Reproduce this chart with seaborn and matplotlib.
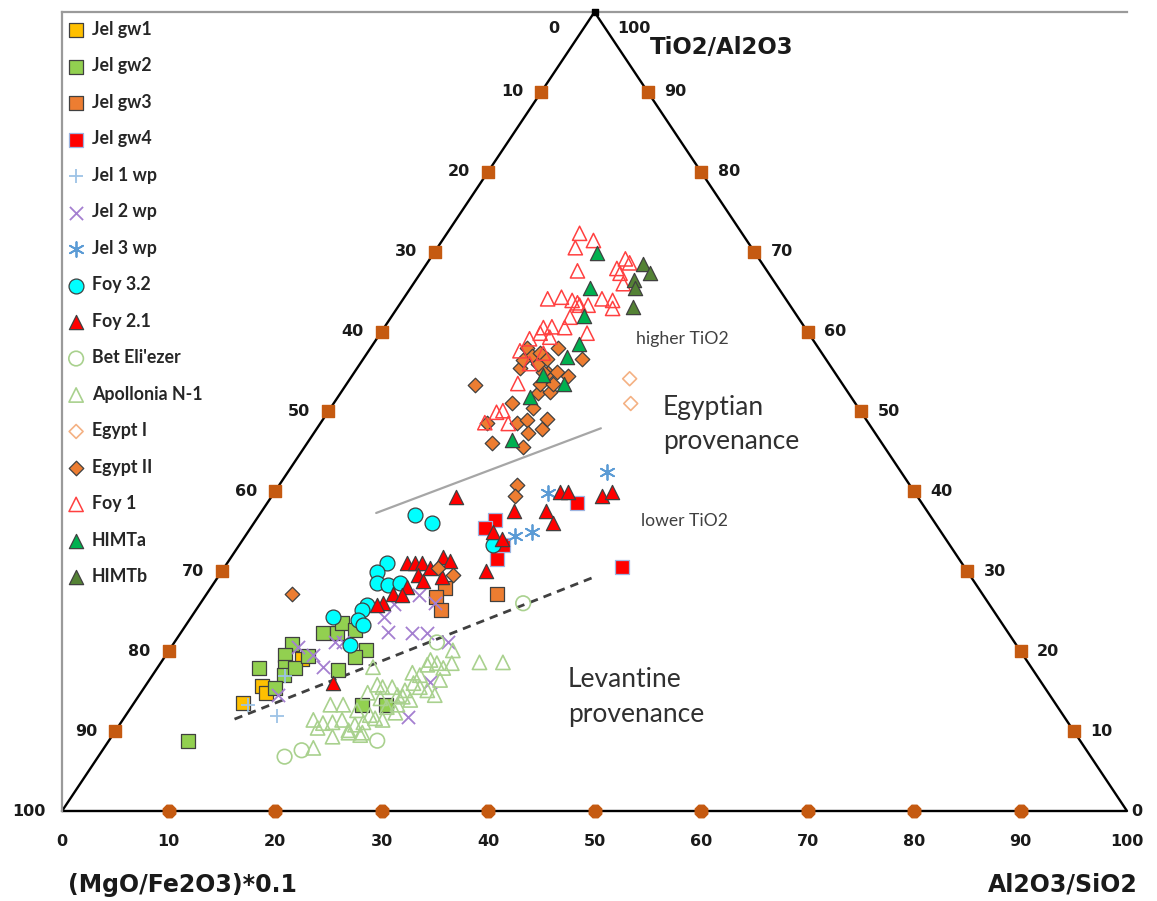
import matplotlib
matplotlib.use("Agg")
import matplotlib.pyplot as plt
from matplotlib.font_manager import FontProperties
import seaborn as sns

sns.set_theme(style="white")
plt.rcParams['font.family'] = ['DejaVu Sans']

# ---------------- data (x = bottom-scale position, y = height % of triangle) -------------
jel_gw1_x = [17.0, 18.8, 19.2, 22.5]
jel_gw1_y = [13.5, 15.6, 14.8, 19.0]

jel_gw2_x = [11.8, 18.5, 21.6, 20.9, 20.9, 20.8, 21.9, 20.0, 23.1, 24.5, 25.8, 26.3, 27.5, 28.5, 27.5, 25.9, 28.2, 30.4]
jel_gw2_y = [8.8, 17.9, 20.9, 19.5, 18.0, 17.0, 17.9, 15.4, 19.4, 22.3, 22.3, 23.5, 22.6, 20.1, 19.3, 17.6, 13.3, 13.3]

jel_gw3_x = [36.0, 35.1, 35.6, 40.8]
jel_gw3_y = [27.9, 26.8, 25.1, 27.1]

jel_gw4_x = [40.7, 39.7, 40.8, 41.4, 48.4, 52.6]
jel_gw4_y = [36.4, 35.4, 31.6, 33.3, 38.6, 30.5]

jel1wp_x = [17.5, 20.2, 20.9]
jel1wp_y = [13.3, 11.9, 16.9]

jel2wp_x = [30.6, 32.9, 34.3, 36.2, 30.2, 31.2, 33.5, 35.0, 24.5, 23.6, 22.2, 20.3, 34.6, 32.5, 26.4, 25.6]
jel2wp_y = [22.4, 22.3, 22.3, 21.1, 24.3, 25.9, 27.0, 26.0, 18.0, 19.5, 20.5, 14.5, 16.1, 11.8, 21.1, 21.1]

jel3wp_x = [51.2, 45.6, 42.5, 44.1]
jel3wp_y = [42.4, 39.8, 34.4, 34.9]

foy32_x = [33.1, 34.7, 30.5, 29.6, 29.6, 30.6, 31.7, 28.6, 28.2, 27.8, 28.3, 25.4, 27.0, 40.5]
foy32_y = [37.1, 36.0, 31.0, 29.9, 28.5, 28.3, 28.5, 25.8, 25.1, 23.9, 23.3, 24.3, 20.8, 33.3]

foy21_x = [37.0, 46.8, 47.5, 50.7, 51.6, 45.4, 46.1, 42.4, 40.5, 41.3, 39.8, 32.4, 33.1, 33.8,
           34.6, 35.8, 36.4, 35.7, 33.4, 33.9, 32.4, 31.1, 31.9, 30.1, 29.6, 25.4]
foy21_y = [39.3, 39.9, 39.9, 39.4, 39.9, 37.6, 36.0, 37.5, 34.9, 34.1, 30.1, 31.0, 31.1, 31.0,
           30.4, 31.8, 31.3, 29.3, 29.5, 28.8, 28.0, 27.1, 27.0, 26.0, 25.8, 16.0]

bet_x = [20.9, 22.5, 29.6, 43.3, 35.2]
bet_y = [6.8, 7.6, 8.8, 26.0, 21.1]

apol_x = [25.2, 26.4, 29.2, 29.6, 30.1, 31.0, 28.7, 31.5, 32.0, 29.9, 30.5, 31.3, 30.1, 29.4, 28.3,
          27.5, 26.3, 25.4, 24.5, 23.6, 24.0, 26.9, 25.4, 28.0, 23.6, 32.9, 33.6, 34.3, 35.2, 35.8,
          36.6, 36.7, 33.0, 33.6, 34.3, 35.0, 35.5, 34.6, 39.2, 41.4, 31.5, 27.7, 28.9, 26.9, 28.2,
          32.2, 32.7]
apol_y = [13.3, 13.3, 18.0, 15.8, 15.5, 15.5, 14.8, 14.5, 14.3, 14.1, 13.0, 12.3, 11.4, 11.6, 11.1,
          10.8, 11.4, 11.1, 11.0, 11.4, 10.4, 10.1, 9.3, 9.5, 7.9, 17.3, 17.0, 18.3, 18.5, 17.9,
          18.5, 20.1, 16.0, 15.5, 15.1, 14.5, 16.4, 18.9, 18.6, 18.6, 13.3, 12.6, 12.0, 9.8, 9.8,
          15.1, 13.9]

egypt1_x = [53.3, 53.4]
egypt1_y = [54.1, 51.0]

egypt2_x = [38.8, 39.9, 40.4, 43.3, 42.7, 43.7, 43.8, 45.1, 45.5, 42.3, 44.2, 44.7, 45.8, 44.9, 46.1,
            47.5, 45.6, 46.5, 45.2, 43.7, 44.1, 44.7, 43.0, 46.6, 48.8, 43.3, 44.9, 45.5, 42.7, 42.5,
            21.6, 35.3, 36.7]
egypt2_y = [53.3, 48.6, 46.0, 45.6, 48.5, 48.9, 47.3, 47.8, 49.0, 51.1, 50.5, 52.3, 52.4, 53.5, 53.5,
            54.4, 54.8, 54.9, 54.9, 58.0, 57.0, 56.0, 55.5, 58.0, 56.6, 56.4, 57.3, 56.6, 40.8, 39.4,
            27.1, 30.4, 29.5]

foy1_x = [48.6, 49.9, 48.2, 48.4, 52.9, 52.4, 52.7, 45.6, 46.9, 47.9, 48.4, 48.6, 50.7, 51.7, 51.7,
          49.4, 47.7, 45.2, 46.0, 47.2, 44.9, 45.8, 49.3, 43.9, 43.0, 45.2, 43.9, 42.8, 41.4, 40.8,
          39.7, 41.9, 53.3, 52.1]
foy1_y = [72.3, 71.4, 70.5, 67.6, 69.1, 67.3, 66.0, 64.1, 64.3, 63.9, 63.6, 63.3, 64.1, 63.9, 62.9,
          63.3, 61.8, 60.5, 60.6, 60.5, 59.8, 59.3, 59.8, 59.1, 57.6, 57.3, 56.0, 53.5, 50.1, 49.9,
          48.6, 48.5, 68.6, 67.9]

himta_x = [50.2, 49.6, 49.0, 48.5, 47.4, 45.2, 47.1, 43.9, 42.3]
himta_y = [69.8, 65.4, 62.0, 58.5, 56.8, 54.6, 53.5, 51.8, 46.4]

himtb_x = [54.6, 55.2, 53.7, 53.8, 53.6]
himtb_y = [68.5, 67.3, 66.4, 65.5, 63.1]

# boundary lines
egypt_line_x = [29.5, 50.6]
egypt_line_y = [37.3, 47.9]
levant_line_x = [16.2, 50.0]
levant_line_y = [11.5, 29.3]

tick_vals = [10, 20, 30, 40, 50, 60, 70, 80, 90]
bottom_labels = ['0', '10', '20', '30', '40', '50', '60', '70', '80', '90', '100']

# ---------------- figure ----------------
W, H = 1157, 901
fig = plt.figure(figsize=(W / 100, H / 100), dpi=100)
ax = fig.add_axes([62 / W, 90 / H, 1065 / W, 799 / H])
ax.set_xlim(0, 100)
ax.set_ylim(0, 100)
ax.set_xticks([])
ax.set_yticks([])
for s in ['right', 'bottom']:
    ax.spines[s].set_visible(False)
for s in ['top', 'left']:
    ax.spines[s].set_color('#9a9a9a')
    ax.spines[s].set_linewidth(1.6)

DARK = '#404040'
series = [
    ("Jel gw1", jel_gw1_x, jel_gw1_y, 's', 100, '#FFC000', DARK, 0.9),
    ("Jel gw2", jel_gw2_x, jel_gw2_y, 's', 100, '#92D050', DARK, 0.9),
    ("Jel gw3", jel_gw3_x, jel_gw3_y, 's', 100, '#ED7D31', DARK, 0.9),
    ("Jel gw4", jel_gw4_x, jel_gw4_y, 's', 100, '#FF0000', '#9DB4E0', 0.9),
    ("Jel 1 wp", jel1wp_x, jel1wp_y, '+', 115, None, '#9DC3E6', 1.3),
    ("Jel 2 wp", jel2wp_x, jel2wp_y, 'x', 90, None, '#A47FD0', 1.3),
    ("Jel 3 wp", jel3wp_x, jel3wp_y, (6, 2, 0), 115, None, '#5B9BD5', 1.3),
    ("Foy 3.2", foy32_x, foy32_y, 'o', 115, '#00FFFF', DARK, 0.9),
    ("Foy 2.1", foy21_x, foy21_y, '^', 105, '#FF0000', DARK, 0.9),
    ("Bet Eli'ezer", bet_x, bet_y, 'o', 110, 'none', '#A9D18E', 1.2),
    ("Apollonia N-1", apol_x, apol_y, '^', 105, 'none', '#A9D18E', 1.2),
    ("Egypt I", egypt1_x, egypt1_y, 'D', 50, 'none', '#F4B183', 1.2),
    ("Egypt II", egypt2_x, egypt2_y, 'D', 55, '#ED7D31', DARK, 0.9),
    ("Foy 1", foy1_x, foy1_y, '^', 105, 'none', '#FF4040', 1.1),
    ("HIMTa", himta_x, himta_y, '^', 105, '#00B050', DARK, 0.9),
    ("HIMTb", himtb_x, himtb_y, '^', 105, '#548235', DARK, 0.9),
]

# triangle frame
ax.plot([0, 50, 100, 0], [0, 100, 0, 0], color='black', lw=1.7, clip_on=False, zorder=2)
ax.scatter([50], [100], marker='s', s=25, color='black', clip_on=False, zorder=3)

for label, xs, ys, mk, sz, fc, ec, lw in series:
    if fc is None:
        sns.scatterplot(x=xs, y=ys, marker=mk, s=sz, color=ec, linewidth=lw,
                        label=label, ax=ax, zorder=4, clip_on=False)
    else:
        sns.scatterplot(x=xs, y=ys, marker=mk, s=sz, facecolor=fc, edgecolor=ec,
                        linewidth=lw, label=label, ax=ax, zorder=4, clip_on=False)

# boundary lines
ax.plot(egypt_line_x, egypt_line_y, color='#a6a6a6', lw=1.6, zorder=3)
ax.plot(levant_line_x, levant_line_y, color='#404040', lw=2.0, ls=(0, (3, 2.2)), zorder=3)

# axis tick markers
BROWN = '#C55A11'
left_x = [50 - 0.5 * v for v in tick_vals]
left_y = [100 - v for v in tick_vals]
right_x = [100 - 0.5 * v for v in tick_vals]
right_y = [v for v in tick_vals]
ax.scatter(left_x, left_y, marker='s', s=80, color=BROWN, zorder=3, clip_on=False)
ax.scatter(right_x, right_y, marker='s', s=80, color=BROWN, zorder=3, clip_on=False)
ax.scatter(tick_vals, [0] * len(tick_vals), marker='8', s=95, color=BROWN, zorder=3, clip_on=False)

tk = dict(fontsize=11.5, fontweight='bold', color='#1a1a1a')
for v, xx, yy in zip(tick_vals, left_x, left_y):
    ax.annotate(str(v), (xx, yy), xytext=(-13, 0), textcoords='offset points',
                ha='right', va='center', **tk)
for v, xx, yy in zip(tick_vals, right_x, right_y):
    ax.annotate(str(v), (xx, yy), xytext=(12, 0), textcoords='offset points',
                ha='left', va='center', **tk)
ax.annotate('0', (50, 100), xytext=(-25, -12), textcoords='offset points', ha='right', va='center', **tk)
ax.annotate('100', (50, 100), xytext=(16, -12), textcoords='offset points', ha='left', va='center', **tk)
ax.annotate('100', (0, 0), xytext=(-12, 0), textcoords='offset points', ha='right', va='center', **tk)
ax.annotate('0', (100, 0), xytext=(3, 0), textcoords='offset points', ha='left', va='center', **tk)
for i, lab in enumerate(bottom_labels):
    ax.annotate(lab, (i * 10, 0), xytext=(0, -22), textcoords='offset points',
                ha='center', va='center', **tk)

# axis titles
fig.text(68 / W, 1 - 885 / H, '(MgO/Fe2O3)*0.1', ha='left', va='center',
         fontsize=17, fontweight='bold', color='#1a1a1a')
fig.text(1138 / W, 1 - 885 / H, 'Al2O3/SiO2', ha='right', va='center',
         fontsize=17, fontweight='bold', color='#1a1a1a')
fig.text(650 / W, 1 - 48 / H, 'TiO2/Al2O3', ha='left', va='center',
         fontsize=16.5, fontweight='bold', color='#1a1a1a')

# annotations
ax.text(53.9, 59.1, 'higher TiO2', family='Lato', fontsize=12.7, color='#404040', va='center')
ax.text(54.4, 36.3, 'lower TiO2', family='Lato', fontsize=12.6, color='#404040', va='center')
ax.text(56.4, 50.5, 'Egyptian', family='Lato', fontsize=19, color='#303030', va='center')
ax.text(56.4, 46.3, 'provenance', family='Lato', fontsize=19, color='#303030', va='center')
ax.text(47.5, 16.5, 'Levantine', family='Lato', fontsize=19, color='#303030', va='center')
ax.text(47.5, 12.1, 'provenance', family='Lato', fontsize=19, color='#303030', va='center')

# legend
handles, labels = ax.get_legend_handles_labels()
ax.legend(handles, labels, loc='upper left', bbox_to_anchor=(69 / W, 1 - 21 / H),
          bbox_transform=fig.transFigure, frameon=False, handlelength=0.8,
          handletextpad=0.5, labelspacing=1.095, borderpad=0, borderaxespad=0,
          scatterpoints=1, prop=FontProperties(family='Lato', weight='bold', size=12.8))

fig.savefig('out.png', dpi=100)
